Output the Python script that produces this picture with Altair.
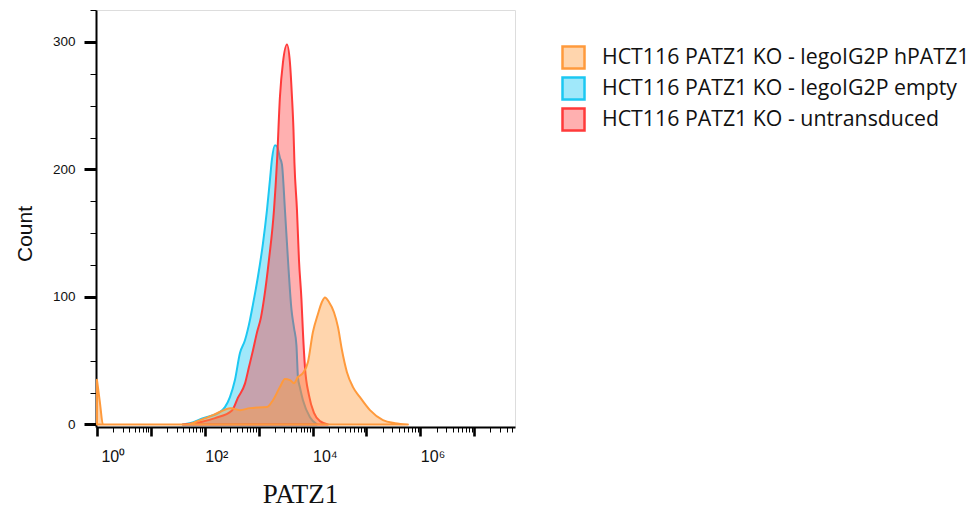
import altair as alt
import pandas as pd

# --- data (PATZ1 intensity, count) ---
SERIES = ["HCT116 PATZ1 KO - legoIG2P hPATZ1",
          "HCT116 PATZ1 KO - legoIG2P empty",
          "HCT116 PATZ1 KO - untransduced"]

hpatz1_x = [1, 1.137, 1.29, 46.8, 81.5, 142, 306, 450, 690, 1426, 1841, 2483, 3076,
            3811, 4519, 5358, 6637, 8222, 10160, 12590, 14930, 16980, 20140, 24950,
            29580, 35080, 43450, 56230, 75680, 116100, 202300, 338100, 588800]
hpatz1_y = [35, 17, 0, 0, 3.4, 7.3, 12.8, 11.2, 12.8, 13.6, 19, 29.3, 35.6,
            34.8, 32.4, 37.2, 40.3, 49, 72.5, 86.6, 96, 99.6, 96, 88,
            76.5, 58.4, 41, 29.3, 21.4, 11.2, 3.4, 1, 0]

empty_x = [39, 53, 93, 191, 237, 293, 363, 450, 557, 690, 783, 971, 1202, 1426, 1622,
           1766, 2004, 2188, 2483, 2704, 3076, 3499, 4064, 4519, 5024, 5358, 5834,
           6637, 8954, 12080]
empty_y = [0, 1, 5, 9.7, 13.6, 21.4, 34.8, 56, 66, 82, 94, 116, 142, 168, 192,
           208, 219, 218, 209, 204, 168, 129, 90, 76, 62, 37, 29,
           19, 5.7, 0]

untr_x = [39, 81.5, 155, 320, 413, 557, 661, 783, 929, 1104, 1253, 1552, 1923, 2188,
          2483, 2825, 3350, 3802, 4150, 4426, 4613, 5140, 5598, 6223, 6637, 7228,
          8570, 10620, 13710, 19320]
untr_y = [0, 1.8, 5, 11, 21, 32, 45, 58, 72, 84, 98, 129, 168, 206,
          257, 284, 298, 284, 257, 231, 205, 168, 129, 98, 72, 45,
          23, 9, 2.6, 0]

STROKES = ["#ff9a3c", "#1cc8f2", "#ff3a3a"]
FILLS = ["rgba(255,154,60,0.42)", "rgba(28,200,242,0.42)", "rgba(255,58,58,0.40)"]

X_MAJOR = [1, 10, 100, 1000, 10000, 100000, 1000000, 10000000]
X_MINOR = [k * m for m in X_MAJOR for k in range(2, 10) if k * m <= 5.7e7]
Y_MAJOR = [0, 100, 200, 300]
Y_MINOR = [v for v in range(25, 326, 25) if v % 100 != 0]

frames = []
for name, xs, ys in [(SERIES[0], hpatz1_x, hpatz1_y),
                     (SERIES[1], empty_x, empty_y),
                     (SERIES[2], untr_x, untr_y)]:
    frames.append(pd.DataFrame({"PATZ1": xs, "Count": ys, "series": name}))
df = pd.concat(frames, ignore_index=True)

legend = alt.Legend(orient="none", legendX=465, legendY=35, title=None,
                    symbolType="square", symbolSize=484, symbolStrokeWidth=2.5,
                    labelFont="Open Sans", labelFontSize=21.3, labelColor="#111",
                    labelOffset=16, rowPadding=-2, padding=0, labelLimit=500)

x_major = alt.Axis(values=X_MAJOR, title="PATZ1", orient="bottom",
                   labelExpr="datum.value == 1 ? '10⁰' : datum.value == 100 ? '10²' : datum.value == 10000 ? '10⁴' : datum.value == 1000000 ? '10⁶' : ''",
                   labelAlign="left", labelOverlap=False, labelFlush=False,
                   labelFont="Liberation Sans", labelFontSize=16, labelColor="#111",
                   labelPadding=25, labelBaseline="alphabetic",
                   labelOffset={"condition": {"test": "datum.value == 1", "value": 4}, "value": 0},
                   ticks=True, tickColor="#000", tickSize=9, tickWidth=2.6,
                   domainColor="#000", domainWidth=2, grid=False,
                   titleFont="Liberation Serif", titleFontSize=27, titleFontWeight="normal",
                   titleColor="#111", titleX=204, titleY=75, titleBaseline="alphabetic",
                   titleAlign="center")
x_minor = alt.Axis(values=X_MINOR, title=None, orient="bottom", labels=False,
                   domain=False, ticks=True, tickColor="#000", tickSize=5, tickWidth=1, grid=False)

y_major = alt.Axis(values=Y_MAJOR, title="Count", orient="left",
                   labelOverlap=False, labelFont="Liberation Sans", labelFontSize=13.5,
                   labelColor="#111", labelPadding=9,
                   ticks=True, tickColor="#000", tickOpacity=1, tickSize=12, tickWidth=3,
                   domainColor="#000", domainWidth=2, grid=False,
                   titleFont="Liberation Sans", titleFontSize=21, titleFontWeight="normal",
                   titleColor="#111", titleAngle=-90, titleX=-65, titleY=223.5,
                   titleBaseline="alphabetic", titleAlign="center")
y_minor = alt.Axis(values=Y_MINOR, title=None, orient="left", labels=False,
                   domain=False, ticks=True, tickColor="#000", tickOpacity=1,
                   tickSize=6, tickWidth=1, grid=False)

xs = alt.Scale(type="log", domain=[0.96, 5.7e7], nice=False)
ys = alt.Scale(domain=[-2, 325], nice=False, zero=False)
fill_scale = alt.Scale(domain=SERIES, range=FILLS)
stroke_scale = alt.Scale(domain=SERIES, range=STROKES)


def layer_for(series_name, xaxis, yaxis):
    return alt.Chart(df).mark_area(strokeWidth=2, interpolate="monotone", strokeJoin="round").encode(
        x=alt.X("PATZ1:Q", scale=xs, axis=xaxis),
        y=alt.Y("Count:Q", scale=ys, axis=yaxis),
        fill=alt.Fill("series:N", scale=fill_scale, legend=legend),
        stroke=alt.Stroke("series:N", scale=stroke_scale, legend=legend),
    ).transform_filter(alt.datum.series == series_name)


layers = [
    layer_for(SERIES[1], x_minor, y_minor),
    layer_for(SERIES[2], x_major, y_major),
    layer_for(SERIES[0], None, None),
]

chart = alt.layer(*layers).resolve_axis(x="independent", y="independent").properties(
    width=419, height=417,
    padding={"left": 96, "top": 10, "right": 457, "bottom": 82},
    autosize=alt.AutoSizeParams(type="none"),
).configure_view(stroke="#111", strokeWidth=1.6).configure(background="white")

chart.save("out.html", embed_options={"renderer": "svg", "actions": False})
